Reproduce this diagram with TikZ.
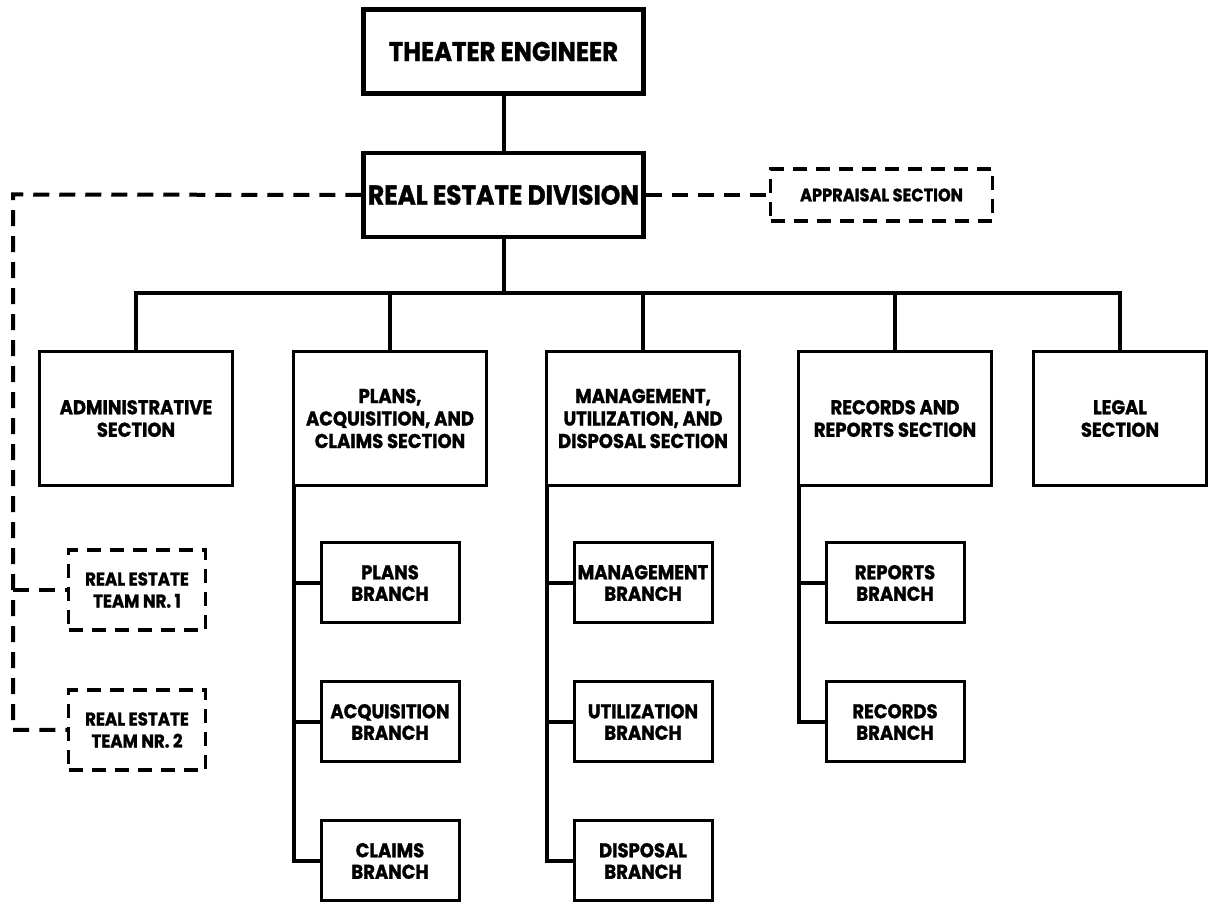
\documentclass[tikz,border=0pt]{standalone}
\usepackage{fontspec}
\newfontfamily\chartfont{Poppins}[FakeStretch=0.9, BoldFeatures={FakeBold=1.3}]
\usetikzlibrary{positioning}
\tikzset{
  chief/.style={ % heavy boxes at the head of the chart
    draw, line width=4.5pt, minimum width=280pt, minimum height=84pt,
    inner sep=2pt, align=center,
    font=\chartfont\bfseries\fontsize{27}{30}\selectfont
  },
  section/.style={ % one box for each section of the division
    draw, line width=3pt, minimum width=193pt, minimum height=134pt,
    outer sep=0pt, inner sep=2pt, align=center,
    font=\chartfont\bfseries\fontsize{20}{22.5}\selectfont
  },
  branch/.style={ % small boxes hanging below a section
    draw, line width=3pt, minimum width=138pt, minimum height=80pt,
    inner sep=1pt, align=center,
    font=\chartfont\bfseries\fontsize{20}{21.5}\selectfont
  },
  detached/.style={ % attached units, dashed outline
    branch, line width=3.5pt, dash pattern=on 14pt off 9pt,
    minimum width=137pt,
    font=\chartfont\bfseries\fontsize{18.5}{22}\selectfont
  },
  link/.style={line width=4pt},
  dashlink/.style={line width=4pt, dash pattern=on 16pt off 10pt}
}

\begin{document}
\begin{tikzpicture}[x=1pt, y=1pt]
  \useasboundingbox (0,0) rectangle (1211,909);

  \node[chief] (te) at (503.5,857.5) {THEATER ENGINEER};
  \node[chief, font=\chartfont\bfseries\fontsize{27.5}{32}\selectfont]
    (red) [below=55pt of te] {REAL ESTATE DIVISION};
  \node[detached, minimum width=222pt, minimum height=52pt,
    font=\chartfont\bfseries\fontsize{18}{22}\selectfont]
    (appr) [right=123pt of red] {APPRAISAL SECTION};

  % sections
  \node[section] (admin) at (136,490.5) {ADMINISTRATIVE\\SECTION};
  \node[section] (pacs) at (390,490.5) {PLANS,\\ACQUISITION, AND\\CLAIMS SECTION};
  \node[section] (muds) at (643,490.5) {MANAGEMENT,\\UTILIZATION, AND\\DISPOSAL SECTION};
  \node[section] (rrs) at (895,490.5) {RECORDS AND\\REPORTS SECTION};
  \node[section, minimum width=173pt] (legal) at (1120,490.5) {LEGAL\\SECTION};

  % branches
  \node[branch] (plansbr) [below=56pt of pacs] {PLANS\\BRANCH};
  \node[branch] (acqbr) [below=56pt of plansbr] {ACQUISITION\\BRANCH};
  \node[branch] (claimsbr) [below=56pt of acqbr] {CLAIMS\\BRANCH};
  \node[branch] (mgmtbr) [below=56pt of muds] {MANAGEMENT\\BRANCH};
  \node[branch] (utilbr) [below=56pt of mgmtbr] {UTILIZATION\\BRANCH};
  \node[branch] (dispbr) [below=56pt of utilbr] {DISPOSAL\\BRANCH};
  \node[branch] (repbr) [below=56pt of rrs] {REPORTS\\BRANCH};
  \node[branch] (recbr) [below=56pt of repbr] {RECORDS\\BRANCH};

  % real estate teams
  \node[detached] (team1) at (137,319) {REAL ESTATE\\TEAM NR. 1};
  \node[detached] (team2) at (137,179) {REAL ESTATE\\TEAM NR. 2};

  \coordinate (bus) at (503.5,616);
  \coordinate (rail) at (13,714.5);

  \draw[link] (te) -- (red);
  \foreach \s in {admin,pacs,muds,rrs,legal}
    \draw[link] (red.south) -- (bus) -| (\s.north);
  \foreach \s/\b in {pacs/plansbr,pacs/acqbr,pacs/claimsbr,
                     muds/mgmtbr,muds/utilbr,muds/dispbr,
                     rrs/repbr,rrs/recbr}
    \draw[link] (\s.south west) |- (\b.west);

  \draw[dashlink] (red.east) -- (appr.west);
  \draw[dashlink] (red.west) -- (rail) |- (team2.west);
  \draw[dashlink] (rail |- team1.west) -- (team1.west);
\end{tikzpicture}
\end{document}
